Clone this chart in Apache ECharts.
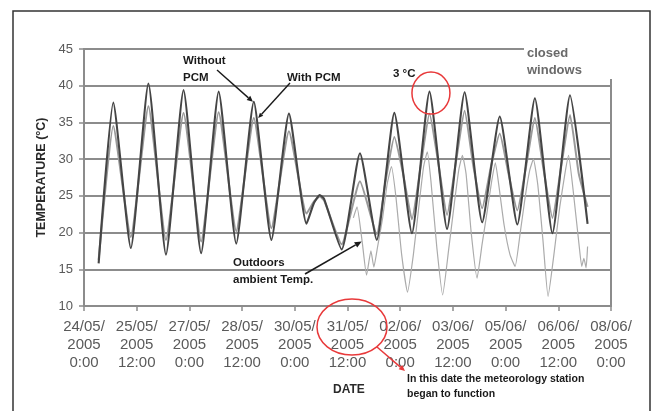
<!DOCTYPE html>
<html>
<head>
<meta charset="utf-8">
<script src="https://cdn.jsdelivr.net/npm/echarts@6/dist/echarts.min.js"></script>
<style>
  html, body { margin: 0; padding: 0; background: #fff; }
  #chart { width: 654px; height: 411px; }
</style>
</head>
<body>
<div id="chart"></div>
<script>
// Indoor and outdoor temperatures, hours counted from 24/05/2005 0:00
const withoutPcm = [
  [10, 15.8], [20, 37.7], [32, 17.9], [44, 40.3], [56, 17.0], [68, 39.4], [80, 17.2],
  [92, 39.2], [104, 18.5], [116, 37.8], [128, 19.0], [140, 36.2], [152, 21.2],
  [157, 24.0], [161, 25.1], [164, 24.6], [176, 17.7], [188.5, 30.8], [200, 19.0],
  [212, 36.3], [224, 19.9], [236, 39.2], [248, 20.5], [260, 39.1], [272, 21.4],
  [284, 35.8], [296, 21.1], [308, 38.3], [320, 19.9], [332, 38.7], [344, 21.2]
];
const withPcm = [
  [10, 16.3], [20, 34.5], [32, 19.4], [44, 37.2], [56, 19.0], [68, 36.3], [80, 18.8],
  [92, 36.4], [104, 20.2], [116, 35.6], [128, 20.6], [140, 33.8], [152, 22.6],
  [157, 24.2], [161, 24.9], [164, 24.4], [176, 18.4], [188.5, 27.0], [200, 19.8],
  [206, 27.0], [212, 33.0], [218, 28.0], [224, 21.8], [230, 29.0], [236, 36.2],
  [242, 29.5], [248, 22.4], [254, 29.5], [260, 36.6], [266, 29.0], [272, 23.3],
  [278, 29.0], [284, 33.5], [290, 28.0], [296, 23.0], [302, 29.0], [308, 35.6],
  [314, 28.5], [320, 22.0], [326, 29.0], [332, 36.0], [338, 28.0], [344, 23.5]
];
const outdoors = [
  [184, 22.0], [186.5, 23.5], [190, 18.8], [193, 14.2], [196, 17.5], [198, 15.3],
  [200.5, 18.0], [204, 22.0], [207, 26.5], [210, 29.0], [213, 25.0], [217, 17.0],
  [221, 11.9], [225, 17.0], [229, 24.0], [232, 29.0], [234.5, 31.0], [237, 27.0],
  [241, 18.0], [245, 11.5], [249, 17.5], [253, 24.0], [256, 28.5], [258.5, 30.5],
  [261, 28.0], [264.5, 20.0], [268.5, 13.8], [272, 18.5], [275.5, 23.0], [278.5, 27.0],
  [281, 29.5], [283, 27.0], [287, 21.0], [291, 17.0], [294.5, 15.4], [298, 20.0],
  [301.5, 25.0], [304.5, 28.5], [307, 30.0], [310, 26.5], [313.5, 19.0], [317, 11.3],
  [321, 17.0], [325, 23.5], [328.5, 28.0], [331, 30.5], [334, 26.0], [338.3, 18.1],
  [340, 15.4], [341.5, 16.5], [343, 15.2], [344, 18.1]
];
// Date ticks every 36 hours
const dateTicks = [
  '24/05/\n2005\n0:00', '25/05/\n2005\n12:00', '27/05/\n2005\n0:00', '28/05/\n2005\n12:00',
  '30/05/\n2005\n0:00', '31/05/\n2005\n12:00', '02/06/\n2005\n0:00', '03/06/\n2005\n12:00',
  '05/06/\n2005\n0:00', '06/06/\n2005\n12:00', '08/06/\n2005\n0:00'
];
const tempTicks = [10, 15, 20, 25, 30, 35, 40, 45];

const FONT = '"Liberation Sans", Arial, sans-serif';
const GRID_COLOR = '#8c8c8c';

const chart = echarts.init(document.getElementById('chart'), null, { renderer: 'canvas' });

chart.setOption({
  backgroundColor: '#fff',
  animation: false,
  grid: {
    left: 84, right: 43, top: 49, bottom: 105,
    show: true, borderColor: GRID_COLOR, borderWidth: 2
  },
  xAxis: {
    type: 'value', min: 0, max: 360, interval: 36,
    axisLine: { lineStyle: { color: GRID_COLOR, width: 2 } },
    axisTick: { show: true, length: 5, lineStyle: { color: GRID_COLOR, width: 1.5 } },
    splitLine: { show: false },
    axisLabel: {
      margin: 12, color: '#5a5a5a', fontFamily: FONT, fontSize: 15, lineHeight: 18,
      formatter: v => dateTicks[Math.round(v / 36)] || ''
    }
  },
  yAxis: {
    type: 'value', min: tempTicks[0], max: tempTicks[tempTicks.length - 1], interval: 5,
    axisLine: { show: true, lineStyle: { color: GRID_COLOR, width: 2 } },
    axisTick: { show: true, length: 5, lineStyle: { color: GRID_COLOR, width: 1.5 } },
    splitLine: { show: true, lineStyle: { color: GRID_COLOR, width: 2 } },
    axisLabel: { margin: 11, color: '#5a5a5a', fontFamily: FONT, fontSize: 13 },
    name: 'TEMPERATURE (°C)', nameLocation: 'middle', nameGap: 28,
    nameTextStyle: { fontFamily: FONT, fontSize: 12.5, fontWeight: 'bold', color: '#2a2a2a' }
  },
  series: [
    {
      name: 'Outdoors ambient Temp.', type: 'line', data: outdoors, showSymbol: false,
      smooth: 0.15, lineStyle: { color: '#ababab', width: 1.2 }, z: 2
    },
    {
      name: 'With PCM', type: 'line', data: withPcm, showSymbol: false,
      smooth: 0.15, lineStyle: { color: '#999999', width: 2 }, z: 3
    },
    {
      name: 'Without PCM', type: 'line', data: withoutPcm, showSymbol: false,
      smooth: 0.17, lineStyle: { color: '#454545', width: 2.1 }, z: 4
    }
  ]
});

// Annotations: arrows, circles and notes
function arrow(p0, p1, color, head, width) {
  const dx = p1[0] - p0[0], dy = p1[1] - p0[1];
  const len = Math.sqrt(dx * dx + dy * dy);
  const ux = dx / len, uy = dy / len;
  const bx = p1[0] - ux * head, by = p1[1] - uy * head;
  const hw = head * 0.45;
  return [
    { type: 'line', z: 50, shape: { x1: p0[0], y1: p0[1], x2: bx, y2: by },
      style: { stroke: color, lineWidth: width } },
    { type: 'polygon', z: 50,
      shape: { points: [[p1[0], p1[1]], [bx - uy * hw, by + ux * hw], [bx + uy * hw, by - ux * hw]] },
      style: { fill: color } }
  ];
}
const px = (h, t) => chart.convertToPixel({ gridIndex: 0 }, [h, t]);
const bold = (text, x, y, size, color) => ({
  type: 'text', z: 60, left: x, top: y,
  style: { text, fontFamily: FONT, fontSize: size, fontWeight: 'bold', fill: color || '#1a1a1a', lineHeight: size + 5 }
});

const tipWithout = px(115.4, 37.8);
const tipWith = px(119, 35.6);
const tipOut = px(189.7, 18.8);
const peakCenter = px(237, 39.0);

const graphics = [
  // outer frame
  { type: 'rect', z: 40, shape: { x: 13, y: 11, width: 637, height: 420 },
    style: { fill: 'none', stroke: '#333', lineWidth: 1.5 } },
  // note box over the top-right corner of the plot
  { type: 'rect', z: 45, shape: { x: 524, y: 42, width: 94, height: 37 }, style: { fill: '#fff' } },
  {
    type: 'text', z: 60, left: 527, top: 45,
    style: { text: 'closed\nwindows', fontFamily: FONT, fontSize: 13, fontWeight: 'bold', fill: '#6a6a6a', lineHeight: 17 }
  },
  bold('Without\nPCM', 183, 53, 11.5),
  bold('With PCM', 287, 70, 11.5),
  bold('3 °C', 393, 66, 11.5),
  bold('Outdoors\nambient Temp.', 233, 255, 11.5),
  bold('DATE', 333, 381, 12, '#2a2a2a'),
  bold('In this date the meteorology station\nbegan to function', 407, 371, 10.5),
  ...arrow([217, 70], tipWithout, '#1a1a1a', 6, 1.4),
  ...arrow([290, 83], tipWith, '#1a1a1a', 5, 1.4),
  ...arrow([305, 274], tipOut, '#1a1a1a', 7, 1.6),
  // red circles
  { type: 'ellipse', z: 55, shape: { cx: peakCenter[0], cy: peakCenter[1], rx: 19, ry: 21 },
    style: { fill: 'none', stroke: '#e8393a', lineWidth: 1.5 } },
  { type: 'ellipse', z: 55, shape: { cx: 352, cy: 327, rx: 35, ry: 28 },
    style: { fill: 'none', stroke: '#e8393a', lineWidth: 1.5 } },
  ...arrow([377, 347], [405, 371], '#e8393a', 6, 1.5)
];
chart.setOption({ graphic: graphics });
</script>
</body>
</html>
